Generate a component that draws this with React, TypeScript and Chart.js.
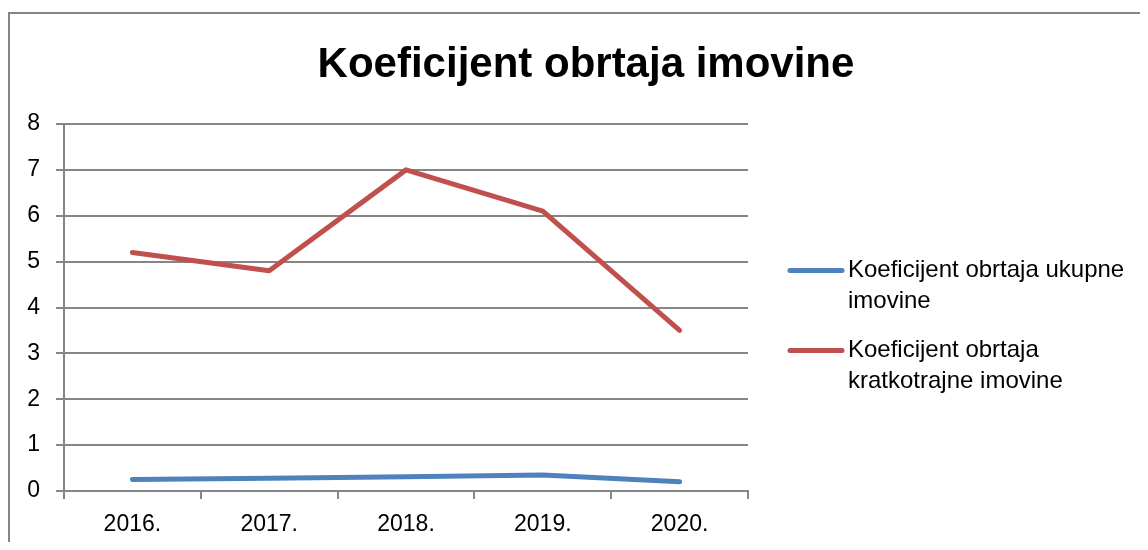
import React, { useEffect, useRef } from "react";
import { Chart, registerables } from "chart.js";

Chart.register(...registerables);

const TITLE = "Koeficijent obrtaja imovine";
const categories = ["2016.", "2017.", "2018.", "2019.", "2020."];
const seriesNames = [
  "Koeficijent obrtaja ukupne imovine",
  "Koeficijent obrtaja kratkotrajne imovine",
];
const ukupne = [0.25, 0.28, 0.31, 0.35, 0.2];
const kratkotrajne = [5.2, 4.8, 7.0, 6.1, 3.5];
const yTicks = [0, 1, 2, 3, 4, 5, 6, 7, 8];

const FONT = "'Liberation Sans', 'DejaVu Sans', sans-serif";
const GRID = "#868686";

const customPlugin = {
  id: "customTitleLegend",
  afterDraw(chart: any) {
    const ctx = chart.ctx;
    ctx.save();
    // title
    ctx.fillStyle = "#000";
    ctx.font = `bold 42px ${FONT}`;
    ctx.textAlign = "center";
    ctx.textBaseline = "alphabetic";
    ctx.fillText(TITLE, 578, 69);
    // legend
    ctx.font = `24px ${FONT}`;
    ctx.textAlign = "left";
    ctx.textBaseline = "middle";
    const maxW = 296;
    const starts = [262.5, 342.5];
    const lineGap = 31;
    chart.data.datasets.forEach((ds: any, i: number) => {
      const y0 = starts[i];
      ctx.strokeStyle = ds.borderColor;
      ctx.lineWidth = 5;
      ctx.lineCap = "round";
      ctx.beginPath();
      ctx.moveTo(782, y0);
      ctx.lineTo(834, y0);
      ctx.stroke();
      const words = String(ds.label).split(" ");
      const lines: string[] = [];
      let cur = "";
      words.forEach((w) => {
        const t = cur ? cur + " " + w : w;
        if (ctx.measureText(t).width > maxW && cur) {
          lines.push(cur);
          cur = w;
        } else cur = t;
      });
      if (cur) lines.push(cur);
      ctx.fillStyle = "#000";
      lines.forEach((l, k) => ctx.fillText(l, 840, y0 + k * lineGap));
    });
    ctx.restore();
  },
};

export default function App() {
  const ref = useRef<HTMLCanvasElement | null>(null);
  useEffect(() => {
    if (!ref.current) return;
    const chart = new Chart(ref.current, {
      type: "line",
      data: {
        labels: categories,
        datasets: [
          {
            label: seriesNames[0],
            data: ukupne,
            borderColor: "#4F81BD",
            backgroundColor: "#4F81BD",
            borderWidth: 5,
            pointRadius: 0,
            tension: 0,
            borderCapStyle: "round",
            borderJoinStyle: "round",
          },
          {
            label: seriesNames[1],
            data: kratkotrajne,
            borderColor: "#C0504D",
            backgroundColor: "#C0504D",
            borderWidth: 5,
            pointRadius: 0,
            tension: 0,
            borderCapStyle: "round",
            borderJoinStyle: "round",
          },
        ],
      },
      options: {
        animation: false,
        responsive: false,
        maintainAspectRatio: false,
        devicePixelRatio: 1,
        layout: { padding: { left: 0, right: 400, top: 116, bottom: 0 } },
        plugins: {
          legend: { display: false },
          title: { display: false },
          tooltip: { enabled: false },
        },
        scales: {
          x: {
            type: "category",
            offset: true,
            grid: {
              offset: true,
              drawOnChartArea: false,
              drawTicks: true,
              tickLength: 8,
              color: GRID,
              lineWidth: 2,
            },
            border: { display: true, color: GRID, width: 2 },
            ticks: {
              color: "#000",
              font: { family: FONT, size: 23 },
              padding: 12,
              maxRotation: 0,
            },
            afterFit(scale: any) {
              scale.height = 51;
            },
          },
          y: {
            min: 0,
            max: 8,
            afterBuildTicks(scale: any) {
              scale.ticks = yTicks.map((v) => ({ value: v }));
            },
            grid: {
              color: GRID,
              lineWidth: 2,
              tickLength: 8,
            },
            border: { display: true, color: GRID, width: 2 },
            ticks: {
              color: "#000",
              font: { family: FONT, size: 23 },
              padding: 16,
            },
            afterFit(scale: any) {
              scale.width = 56;
            },
          },
        },
      },
      plugins: [customPlugin],
    } as any);
    return () => chart.destroy();
  }, []);

  return (
    <div style={{ position: "relative", width: 1140, height: 534, overflow: "hidden" }}>
      <div
        style={{
          position: "absolute",
          left: 0,
          top: 4,
          width: 1300,
          height: 700,
          borderLeft: `2px solid ${GRID}`,
          borderTop: `2px solid ${GRID}`,
          boxSizing: "border-box",
        }}
      />
      <canvas
        ref={ref}
        width={1140}
        height={534}
        style={{ position: "absolute", left: 0, top: 0, width: 1140, height: 534 }}
      />
    </div>
  );
}
